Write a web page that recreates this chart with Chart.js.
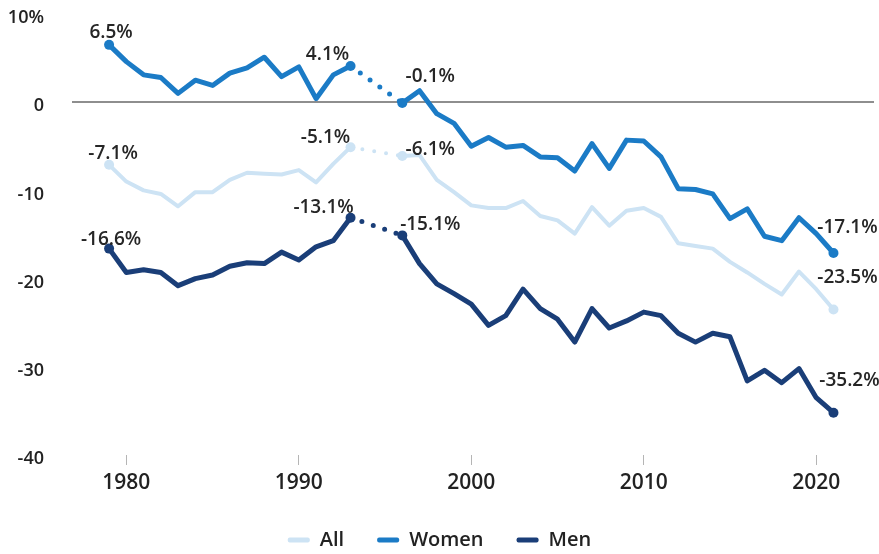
<!DOCTYPE html>
<html>
<head>
<meta charset="utf-8">
<script src="https://cdn.jsdelivr.net/npm/chart.js@4/dist/chart.umd.min.js"></script>
<style>
  html, body { margin: 0; padding: 0; background: #fff; }
  #wrap { width: 879px; height: 554px; position: relative; }
</style>
</head>
<body>
<div id="wrap"><canvas id="gapChart"></canvas></div>
<script>
// Years with data (no values for 1994 and 1995)
const years = [1979, 1980, 1981, 1982, 1983, 1984, 1985, 1986, 1987, 1988, 1989, 1990, 1991, 1992, 1993,
               1996, 1997, 1998, 1999, 2000, 2001, 2002, 2003, 2004, 2005, 2006, 2007, 2008, 2009, 2010,
               2011, 2012, 2013, 2014, 2015, 2016, 2017, 2018, 2019, 2020, 2021];

const allValues = [-7.1, -9.0, -10.0, -10.4, -11.8, -10.2, -10.2, -8.8, -8.0, -8.1, -8.2, -7.7, -9.1, -7.0, -5.1,
                   -6.1, -6.0, -8.8, -10.2, -11.7, -12.0, -12.0, -11.2, -12.9, -13.4, -14.9, -11.9, -14.0, -12.3, -12.0,
                   -13.0, -16.0, -16.3, -16.6, -18.1, -19.3, -20.6, -21.8, -19.2, -21.2, -23.5];

const womenValues = [6.5, 4.6, 3.1, 2.8, 1.0, 2.5, 1.9, 3.3, 3.9, 5.1, 2.9, 4.0, 0.4, 3.1, 4.1,
                     -0.1, 1.3, -1.3, -2.4, -5.0, -4.0, -5.1, -4.9, -6.2, -6.3, -7.8, -4.7, -7.5, -4.3, -4.4,
                     -6.2, -9.8, -9.9, -10.4, -13.2, -12.1, -15.2, -15.7, -13.1, -14.9, -17.1];

const menValues = [-16.6, -19.3, -19.0, -19.3, -20.8, -20.0, -19.6, -18.6, -18.2, -18.3, -17.0, -17.9, -16.4, -15.7, -13.1,
                   -15.1, -18.3, -20.6, -21.7, -22.9, -25.3, -24.2, -21.2, -23.4, -24.6, -27.2, -23.4, -25.6, -24.8, -23.8,
                   -24.2, -26.2, -27.2, -26.2, -26.6, -31.6, -30.4, -31.8, -30.2, -33.5, -35.2];

const seriesNames = ['All', 'Women', 'Men'];
const yearTicks = [1980, 1990, 2000, 2010, 2020];
const valueTicks = [10, 0, -10, -20, -30, -40];

// Points that get a marker and a value label
const labelledIdx = [0, 14, 15, 40];

const FONT = "'Open Sans', 'Noto Sans', sans-serif";
const colors = ['#cde3f4', '#1b7bc6', '#1a3e78'];
const widths = [4, 5, 5];

// label offsets (px from the point) per series, matching labelledIdx
const labelOffsets = [
  [[4, -11], [-25, -10], [28, -6], [14, -32]],
  [[2, -12], [-23, -11], [28, -26], [14, -25]],
  [[2, -9], [-27, -10], [28, -11], [16, -32]]
];

function toPoints(values) {
  return values.map((v, i) => ({ x: years[i], y: v }));
}

function makeDataset(name, values, idx) {
  return {
    label: name,
    data: toPoints(values),
    borderColor: colors[idx],
    backgroundColor: colors[idx],
    borderWidth: widths[idx],
    borderCapStyle: 'round',
    borderJoinStyle: 'round',
    tension: 0,
    spanGaps: true,
    pointRadius: values.map((v, i) => labelledIdx.includes(i) ? 5 : 0),
    pointBorderWidth: 0,
    pointBackgroundColor: colors[idx],
    segment: {
      // dotted across the missing years
      borderDash: ctx => (years[ctx.p1DataIndex] - years[ctx.p0DataIndex] > 1) ? [0, 12] : undefined
    }
  };
}

// Draw the value labels next to the marked points
const valueLabels = {
  id: 'valueLabels',
  afterDatasetsDraw(chart) {
    const ctx = chart.ctx;
    ctx.save();
    ctx.font = '600 19px ' + FONT;
    ctx.fillStyle = '#262626';
    ctx.textAlign = 'center';
    ctx.textBaseline = 'middle';
    chart.data.datasets.forEach((ds, d) => {
      const meta = chart.getDatasetMeta(d);
      labelledIdx.forEach((i, k) => {
        const pt = meta.data[i];
        const off = labelOffsets[d][k];
        ctx.fillText(ds.data[i].y.toFixed(1) + '%', pt.x + off[0], pt.y + off[1]);
      });
    });
    ctx.restore();
  }
};

const gapCtx = document.getElementById('gapChart');
new Chart(gapCtx, {
  type: 'line',
  data: {
    datasets: [
      makeDataset(seriesNames[0], allValues, 0),
      makeDataset(seriesNames[1], womenValues, 1),
      makeDataset(seriesNames[2], menValues, 2)
    ]
  },
  options: {
    responsive: true,
    maintainAspectRatio: false,
    animation: false,
    layout: {
      padding: { top: 14, right: 0, left: 0, bottom: -6 }
    },
    scales: {
      x: {
        type: 'linear',
        min: 1976.85,
        max: 2023.35,
        afterBuildTicks: scale => { scale.ticks = yearTicks.map(v => ({ value: v })); },
        afterFit: scale => { scale.height = 42; scale.paddingLeft = 0; scale.paddingRight = 0; },
        border: { display: false },
        grid: {
          drawOnChartArea: false,
          drawTicks: true,
          tickLength: 10,
          color: '#b5b5b5'
        },
        ticks: {
          padding: 5,
          color: '#222',
          font: { family: FONT, size: 21, weight: '600' },
          maxRotation: 0,
          callback: v => String(v)
        }
      },
      y: {
        min: -40,
        max: 10,
        afterBuildTicks: scale => { scale.ticks = valueTicks.map(v => ({ value: v })); },
        afterFit: scale => { scale.width = 72; scale.paddingTop = 0; scale.paddingBottom = 0; },
        border: { display: false },
        grid: {
          drawTicks: false,
          lineWidth: 2,
          color: ctx => ctx.tick && ctx.tick.value === 0 ? '#8e8e8e' : 'rgba(0,0,0,0)'
        },
        ticks: {
          padding: 28,
          labelOffset: 4,
          color: '#222',
          font: { family: FONT, size: 18, weight: '600' },
          callback: v => v === 10 ? '10%' : String(v)
        }
      }
    },
    plugins: {
      legend: {
        position: 'bottom',
        labels: {
          boxWidth: 22,
          boxHeight: 5,
          padding: 33,
          useBorderRadius: true,
          borderRadius: 2,
          color: '#222',
          font: { family: FONT, size: 20, weight: '600' },
          generateLabels: chart => chart.data.datasets.map((ds, i) => ({
            text: ds.label,
            fillStyle: ds.borderColor,
            strokeStyle: ds.borderColor,
            lineWidth: 0,
            borderRadius: 2,
            fontColor: '#222',
            datasetIndex: i
          }))
        }
      },
      tooltip: { enabled: false }
    }
  },
  plugins: [valueLabels]
});
</script>
</body>
</html>
